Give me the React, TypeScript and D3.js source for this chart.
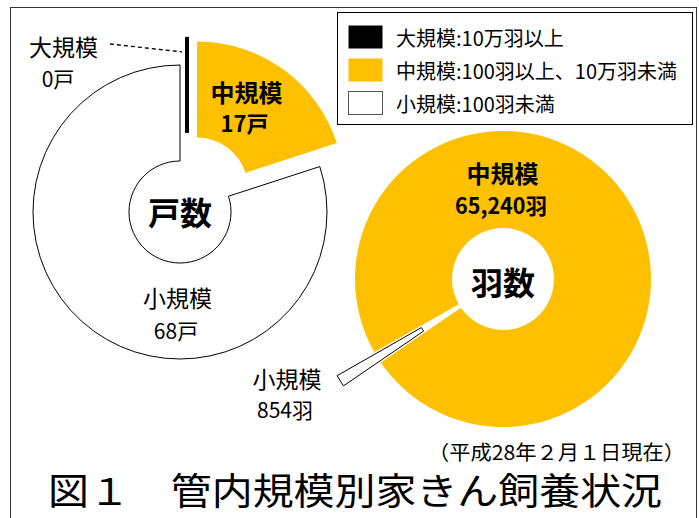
import React from "react";
import * as d3 from "d3";

const W = 699;
const H = 518;

// Data
const categories = ["大規模", "中規模", "小規模"];
const farmCounts = [0, 17, 68]; // 戸数
const birdCounts = [0, 65240, 854]; // 羽数
const legendLabels = ["大規模:10万羽以上", "中規模:100羽以上、10万羽未満", "小規模:100羽未満"];
const colors = ["#000000", "#FFC000", "#FFFFFF"];
const farmLabelUnits = "戸";
const birdLabelUnits = "羽";
const titleText = "図１　管内規模別家きん飼養状況";
const noteText = "（平成28年２月１日現在）";

const FONT = "'Noto Sans CJK JP', 'Noto Sans', sans-serif";

function explodeOffset(angle: number, dist: number): [number, number] {
  return [Math.sin(angle) * dist, -Math.cos(angle) * dist];
}

export default function App() {
  // Left pie (戸数)
  const cxL = 180, cyL = 212, rInL = 51, rOutL = 147;
  const pieL = d3.pie<number>().sort(null).value((d) => d).startAngle(0).endAngle(2 * Math.PI)(farmCounts);
  const arcL = d3.arc<d3.PieArcDatum<number>>().innerRadius(rInL).outerRadius(rOutL);
  const explodeL = [29, 29, 0];

  // Right pie (羽数)
  const cxR = 503, cyR = 279, rInR = 51, rOutR = 148;
  const startR = (240.3 * Math.PI) / 180;
  const pieR = d3.pie<number>().sort(null).value((d) => d).startAngle(startR).endAngle(startR + 2 * Math.PI)(birdCounts);
  const arcR = d3.arc<d3.PieArcDatum<number>>().innerRadius(rInR).outerRadius(rOutR);
  const explodeR = [0, 0, 44];

  // zero slice (大規模) line in left pie
  const zero = pieL[0];
  const zeroOff = explodeOffset((14 * Math.PI) / 180, explodeL[0]);
  const zx1 = cxL + Math.sin(zero.startAngle) * rInL + zeroOff[0];
  const zy1 = cyL - Math.cos(zero.startAngle) * rInL + zeroOff[1];
  const zx2 = cxL + Math.sin(zero.startAngle) * rOutL + zeroOff[0];
  const zy2 = cyL - Math.cos(zero.startAngle) * rOutL + zeroOff[1];

  return (
    <svg width={W} height={H} style={{ position: "absolute", left: 0, top: 0, background: "#fff" }} fontFamily={FONT}>
      <rect x={10.5} y={7.5} width={686} height={530} fill="#fff" stroke="#333" strokeWidth={1} />

      {/* Left pie */}
      <g transform={`translate(${cxL},${cyL})`}>
        {pieL.map((d, i) => {
          if (d.value === 0) return null;
          const [ox, oy] = explodeOffset((d.startAngle + d.endAngle) / 2, explodeL[i]);
          return (
            <path
              key={i}
              d={arcL(d) || ""}
              transform={`translate(${ox},${oy})`}
              fill={colors[i]}
              stroke={i === 2 ? "#000" : "none"}
              strokeWidth={1}
            />
          );
        })}
      </g>
      <line x1={zx1} y1={zy1} x2={zx2} y2={zy2} stroke="#000" strokeWidth={4} />
      <line x1={110} y1={44} x2={zx2 - 5} y2={zy2 + 15} stroke="#000" strokeWidth={1.3} strokeDasharray="4,3" />

      {/* Right pie */}
      <g transform={`translate(${cxR},${cyR})`}>
        {pieR.map((d, i) => {
          if (d.value === 0) return null;
          const [ox, oy] = explodeOffset((d.startAngle + d.endAngle) / 2, explodeR[i]);
          return (
            <path
              key={i}
              d={arcR(d) || ""}
              transform={`translate(${ox},${oy})`}
              fill={colors[i]}
              stroke={i === 2 ? "#000" : "none"}
              strokeWidth={1}
            />
          );
        })}
      </g>

      {/* Labels */}
      <g dominantBaseline="central" textAnchor="middle" fill="#000">
        <text x={63.5} y={46} fontSize={23}>{categories[0]}</text>
        <text x={58} y={78} fontSize={21}>{`${farmCounts[0]}${farmLabelUnits}`}</text>
        <text x={246.5} y={91} fontSize={24} fontWeight={700}>{categories[1]}</text>
        <text x={244.5} y={122} fontSize={22} fontWeight={700}>{`${farmCounts[1]}${farmLabelUnits}`}</text>
        <text x={180} y={211} fontSize={32} fontWeight={700}>戸数</text>
        <text x={177.5} y={297} fontSize={23}>{categories[2]}</text>
        <text x={176} y={330} fontSize={21}>{`${farmCounts[2]}${farmLabelUnits}`}</text>

        <text x={502.5} y={172} fontSize={24} fontWeight={700}>{categories[1]}</text>
        <text x={501} y={204} fontSize={22} fontWeight={700} textLength={92} lengthAdjust="spacingAndGlyphs">{`${d3.format(",")(birdCounts[1])}${birdLabelUnits}`}</text>
        <text x={503} y={281} fontSize={32} fontWeight={700}>羽数</text>
        <text x={287} y={378} fontSize={23}>{categories[2]}</text>
        <text x={285} y={409} fontSize={21}>{`${birdCounts[2]}${birdLabelUnits}`}</text>
      </g>

      {/* Legend */}
      <rect x={337.5} y={12.5} width={355} height={112} fill="#fff" stroke="#000" strokeWidth={1} />
      {legendLabels.map((lab, i) => {
        const y = 37 + i * 33;
        return (
          <g key={i}>
            <rect x={348.5} y={y - 11.5} width={34} height={23} fill={colors[i]} stroke={i === 2 ? "#555" : "none"} strokeWidth={1} />
            <text x={396} y={y} fontSize={20} dominantBaseline="central" fill="#000">{lab}</text>
          </g>
        );
      })}

      {/* Footnote & title */}
      <text x={685} y={451} fontSize={20} textAnchor="end" dominantBaseline="central" textLength={257} lengthAdjust="spacingAndGlyphs">{noteText}</text>
      <text x={48} y={489} fontSize={37} dominantBaseline="central" textLength={614} lengthAdjust="spacingAndGlyphs">{titleText}</text>
    </svg>
  );
}
